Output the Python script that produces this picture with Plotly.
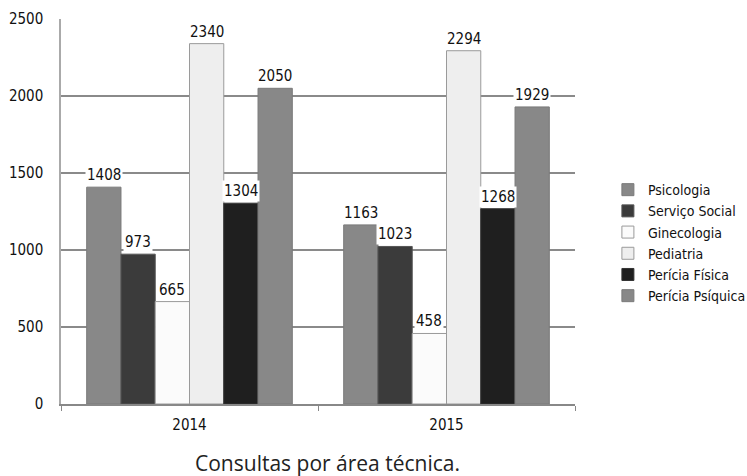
import plotly.graph_objects as go

years = ["2014", "2015"]
series_names = ["Psicologia", "Serviço Social", "Ginecologia", "Pediatria", "Perícia Física", "Perícia Psíquica"]
psicologia = [1408, 1163]
servico_social = [973, 1023]
ginecologia = [665, 458]
pediatria = [2340, 2294]
pericia_fisica = [1304, 1268]
pericia_psiquica = [2050, 1929]
y_ticks = [0, 500, 1000, 1500, 2000, 2500]

values = [psicologia, servico_social, ginecologia, pediatria, pericia_fisica, pericia_psiquica]
fills = ["#888888", "#3b3b3b", "#fbfbfb", "#eeeeee", "#1f1f1f", "#888888"]
edges = ["#7a7a7a", "#555555", "#9a9a9a", "#9a9a9a", "#333333", "#7a7a7a"]

FONT = "DejaVu Sans Condensed, Liberation Sans Narrow, DejaVu Sans, sans-serif"
BARGAP = 0.2
n = len(series_names)
bw = (1 - BARGAP) / n

fig = go.Figure()
for j, (name, vals) in enumerate(zip(series_names, values)):
    fig.add_trace(go.Bar(
        x=years, y=vals, name=name,
        marker=dict(color=fills[j], line=dict(color=edges[j], width=1)),
    ))

annotations = []
for j, vals in enumerate(values):
    for i, v in enumerate(vals):
        annotations.append(dict(
            x=i + (j - (n - 1) / 2) * bw, y=v, xref="x", yref="y",
            text=str(v), showarrow=False, yanchor="bottom", xanchor="center",
            bgcolor="white", borderpad=1, yshift=1,
            font=dict(family=FONT, size=15, color="#111111"),
        ))

annotations.append(dict(
    text="Consultas por área técnica.", xref="paper", yref="paper",
    x=0.519, y=-0.153, xanchor="center", yanchor="middle", showarrow=False,
    font=dict(family="Open Sans, sans-serif", size=21, color="#222222"),
))

fig.update_layout(
    width=747, height=476,
    margin=dict(l=61, r=172, t=19, b=72, autoexpand=False),
    paper_bgcolor="white", plot_bgcolor="white",
    barmode="group", bargap=BARGAP, bargroupgap=0,
    showlegend=True,
    legend=dict(x=1.064, y=0.418, xanchor="left", yanchor="middle",
                font=dict(family=FONT, size=14, color="#111111"),
                tracegroupgap=0, itemwidth=30, bgcolor="rgba(0,0,0,0)"),
    annotations=annotations,
    font=dict(family=FONT, size=15, color="#111111"),
)
fig.update_xaxes(type="category", showline=True, linecolor="#888888", linewidth=1.5,
                 ticks="outside", tickson="boundaries", ticklen=5, tickcolor="#888888",
                 showgrid=False, automargin=False, ticklabelstandoff=6,
                 tickfont=dict(family=FONT, size=15, color="#111111"))
fig.update_yaxes(range=[0, 2500], tickvals=y_ticks, showline=True, linecolor="#aaaaaa",
                 linewidth=1.5, showgrid=True, gridcolor="#8a8a8a", gridwidth=1.5,
                 zeroline=False, ticks="", ticklen=0, automargin=False,
                 ticklabelstandoff=13,
                 tickfont=dict(family=FONT, size=15, color="#111111"))

fig.write_html("out.html", config={"displayModeBar": False},
               post_script="document.body.style.margin='0';document.body.style.overflow='hidden';")
